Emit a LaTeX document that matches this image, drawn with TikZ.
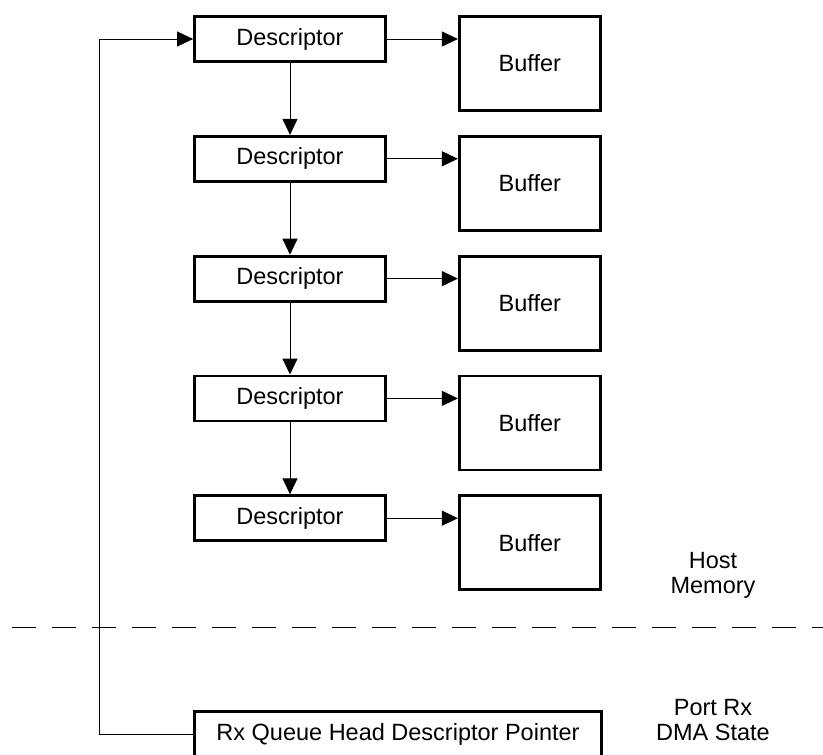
\documentclass[tikz,border=0pt]{standalone}
\usepackage{fontspec}
\setmainfont{Liberation Sans}
\usepackage{tikz}
\usetikzlibrary{positioning,arrows.meta}

\begin{document}
\begin{tikzpicture}[
    x=1pt, y=-1pt,
    node distance=72pt,
    descbox/.style={rectangle, draw=black, line width=2.8pt,
                minimum width=191pt, minimum height=45pt, inner sep=0pt,
                font=\fontsize{23.5}{28}\selectfont, align=center},
    bufbox/.style={descbox, minimum width=141pt, minimum height=94pt},
    lbl/.style={font=\fontsize{23.5}{25}\selectfont, align=center},
    arr/.style={-{Triangle[length=16pt,width=15pt]}, line width=1pt, color=black}
  ]
    \useasboundingbox (0,0) rectangle (823,755);

    \node[descbox] (d1) at (290,39) {Descriptor};
    \node[descbox] (d2) [below=of d1] {Descriptor};
    \node[descbox] (d3) [below=of d2] {Descriptor};
    \node[descbox] (d4) [below=of d3] {Descriptor};
    \node[descbox] (d5) [below=of d4] {Descriptor};

    \node[bufbox] (b1) [right=71pt of d1.north east, anchor=north west] {Buffer};
    \node[bufbox] (b2) [right=71pt of d2.north east, anchor=north west] {Buffer};
    \node[bufbox] (b3) [right=71pt of d3.north east, anchor=north west] {Buffer};
    \node[bufbox] (b4) [right=71pt of d4.north east, anchor=north west] {Buffer};
    \node[bufbox] (b5) [right=71pt of d5.north east, anchor=north west] {Buffer};

    \node[descbox, minimum width=407pt] (rx) at (398,734) {Rx Queue Head Descriptor Pointer};

    \node[lbl] (host) at (713,575.5) {Host\\Memory};
    \node[lbl] (port) at (713,720.5) {Port Rx\\DMA State};

    % boundary between host memory and port state
    \coordinate (sepL) at (12,627);
    \coordinate (sepR) at (823,627);
    \draw[line width=1pt, dash pattern=on 24pt off 16pt] (sepL) -- (sepR);

    \draw[arr] (d1) -- (d2);
    \draw[arr] (d2) -- (d3);
    \draw[arr] (d3) -- (d4);
    \draw[arr] (d4) -- (d5);

    \draw[arr] (d1.east) -- (d1.east -| b1.west);
    \draw[arr] (d2.east) -- (d2.east -| b2.west);
    \draw[arr] (d3.east) -- (d3.east -| b3.west);
    \draw[arr] (d4.east) -- (d4.east -| b4.west);
    \draw[arr] (d5.east) -- (d5.east -| b5.west);

    % head pointer back to first descriptor
    \coordinate (loop) at (99,734);
    \draw[arr] (rx.west) -- (loop) |- (d1.west);
  \end{tikzpicture}
\end{document}
